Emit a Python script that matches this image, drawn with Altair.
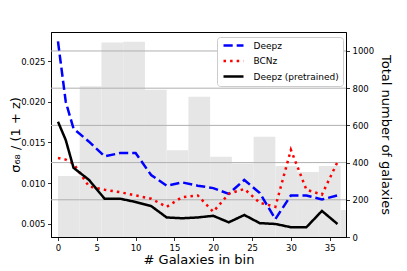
import altair as alt
import pandas as pd

# ---- data ----
x_vals = [0, 1, 2, 4, 6, 8, 10, 12, 14, 16, 18, 20, 22, 24, 26, 28, 30, 32, 34, 36]
deepz = [0.0274, 0.0200, 0.0167, 0.0151, 0.0133, 0.0137, 0.0137, 0.0110, 0.0097, 0.0101,
         0.0097, 0.0094, 0.0087, 0.0104, 0.0088, 0.0056, 0.0085, 0.0085, 0.0080, 0.0085]
bcnz = [0.0131, 0.0129, 0.0124, 0.0096, 0.0092, 0.0089, 0.0085, 0.0081, 0.0071, 0.0083,
        0.0085, 0.0065, 0.0087, 0.0093, 0.0076, 0.0071, 0.0141, 0.0092, 0.0086, 0.0126]
pretrained = [0.01755, 0.0153, 0.0119, 0.0104, 0.0081, 0.0081, 0.0077, 0.0072, 0.0058, 0.0057,
              0.0058, 0.0060, 0.0052, 0.0061, 0.0051, 0.0050, 0.0046, 0.0046, 0.0066, 0.0050]

series_names = ["Deepz", "BCNz", "Deepz (pretrained)"]
series_colors = ["#0000ff", "#ff0000", "#000000"]

bin_start = [0.0, 2.8, 5.6, 8.4, 11.2, 14.0, 16.8, 19.6, 22.4, 25.2, 28.0, 30.8, 33.6, 36.4]
bin_end = [2.8, 5.6, 8.4, 11.2, 14.0, 16.8, 19.6, 22.4, 25.2, 28.0, 30.8, 33.6, 36.4, 39.2]
bin_counts = [328, 811, 1045, 1049, 792, 467, 754, 431, 395, 539, 382, 350, 382, 145]

count_ticks = [0, 200, 400, 600, 800, 1000]
grid_counts = [200, 400, 600, 800, 1000]
sigma_ticks = [0.005, 0.010, 0.015, 0.020, 0.025]
x_ticks = [0, 5, 10, 15, 20, 25, 30, 35]

# ---- tables ----
rows = []
for name, vals in zip(series_names, [deepz, bcnz, pretrained]):
    for xv, v in zip(x_vals, vals):
        rows.append({"x": xv, "v": v, "series": name})
df_lines = pd.DataFrame(rows)
df_bins = pd.DataFrame({"start": bin_start, "end": bin_end, "n": bin_counts})
df_grid = pd.DataFrame({"n": grid_counts})

FONT = "DejaVu Sans"
xscale = alt.Scale(domain=[-0.9, 37.1], nice=False, zero=False)
cscale = alt.Scale(domain=[0, 1102], nice=False, zero=True)
sscale = alt.Scale(domain=[0.0034, 0.02856], nice=False, zero=False)

xaxis = alt.Axis(values=x_ticks, title="# Galaxies in bin", grid=False, format="d",
                 titlePadding=2)
caxis = alt.Axis(orient="right", values=count_ticks, grid=False, format="d",
                 title="Total number of galaxies", titlePadding=5)

bars = alt.Chart(df_bins).mark_rect(color="#e6e6e6", clip=True).encode(
    x=alt.X("start:Q", scale=xscale, axis=xaxis),
    x2="end:Q",
    y=alt.Y("n:Q", scale=cscale, axis=caxis),
    y2=alt.datum(0),
)

grid = alt.Chart(df_grid).mark_rule(color="#b0b0b0", strokeWidth=1).encode(
    y=alt.Y("n:Q", scale=cscale, axis=caxis)
)

legend = alt.Legend(
    orient="none", legendX=166, legendY=5, title=None,
    fillColor="white", strokeColor="#cccccc", cornerRadius=3, padding=4,
    labelFont=FONT, labelFontSize=9, labelColor="black", labelOffset=15.5,
    symbolType="M-5,0H5", symbolSize=16, symbolStrokeWidth=2.5, rowPadding=4.5,
    symbolOffset=8,
)

lines = alt.Chart(df_lines).mark_line(strokeWidth=2.5, clip=True).encode(
    x=alt.X("x:Q", scale=xscale, axis=xaxis),
    y=alt.Y("v:Q", scale=sscale,
            axis=alt.Axis(orient="left", values=sigma_ticks, format=".3f", grid=False,
                          title="σ₆₈ / (1 + z)", titlePadding=-2)),
    color=alt.Color("series:N", scale=alt.Scale(domain=series_names, range=series_colors),
                    legend=legend, sort=series_names),
    strokeDash=alt.StrokeDash("series:N",
                              scale=alt.Scale(domain=series_names,
                                              range=[[9.2, 4], [2.5, 4.1], [1, 0]]),
                              legend=legend, sort=series_names),
)

chart = alt.layer(alt.layer(bars, grid), lines).resolve_scale(y="independent").properties(
    width=295, height=205,
    autosize=alt.AutoSizeParams(type="none"),
    padding={"left": 43, "top": 24, "right": 53, "bottom": 32},
).configure_view(
    stroke="black", strokeWidth=1
).configure_axis(
    labelFont=FONT, labelFontSize=8.5, labelColor="black",
    titleFont=FONT, titleFontSize=13, titleFontWeight="normal", titleColor="black",
    tickColor="black", tickSize=3.5, tickWidth=0.8, labelPadding=2.5,
    domainColor="black", domainWidth=1,
).configure_legend(
    labelFont=FONT
)

chart.save("out.html", embed_options={"renderer": "svg", "actions": False})
